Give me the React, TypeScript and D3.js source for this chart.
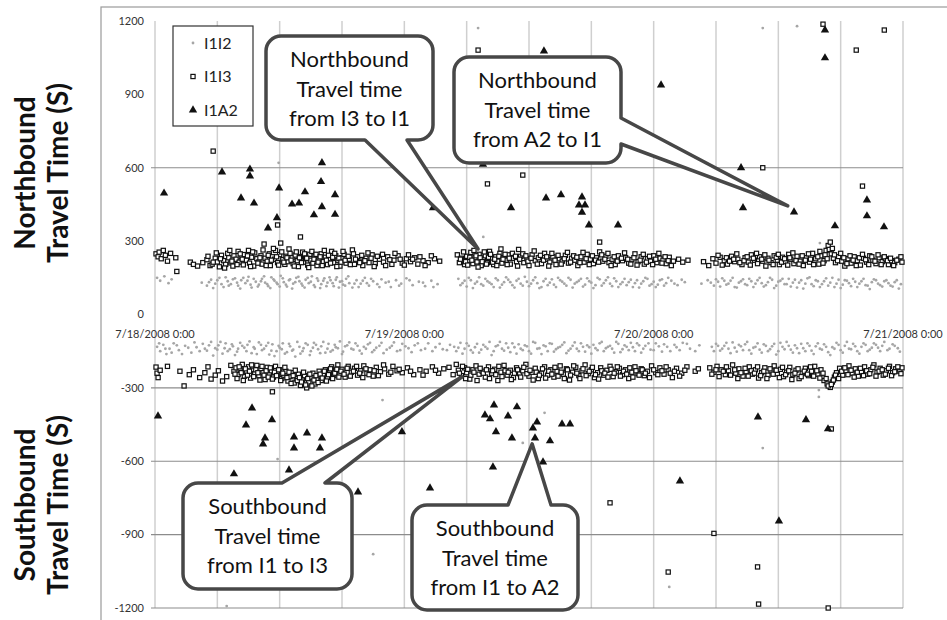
import * as d3 from 'd3'

const W = 947
const H = 620

// series / axes
const seriesNames = ['I1I2', 'I1I3', 'I1A2']
const dayHours = [0, 24, 48, 72]
const dayLabels = ['7/18/2008 0:00', '7/19/2008 0:00', '7/20/2008 0:00', '7/21/2008 0:00']
const gridHours = [0, 6, 12, 18, 24, 30, 36, 42, 48, 54, 60, 66, 72]
const yTicks = [1200, 900, 600, 300, 0, -300, -600, -900, -1200]
const yGrid = [600, -300, -600, -900, -1200]

// [hours since 7/18 0:00, travel time s]; northbound positive, southbound negative
const northI1I2: [number, number][] = [
  [0.2,150],[0.5,138],[0.9,156],[1.3,128],[1.6,144],[4.5,130],[5.0,118],[5.4,142],[5.8,126],[6.2,150],[6.6,112],[7.0,136],[7.3,124],[7.7,148],[8.0,118],[8.3,140],[8.7,128],[9.0,154],[9.3,110],[9.7,134],[10.0,122],[10.3,146],[10.6,130],[10.9,116],[11.2,152],[11.5,138],[11.8,124],[12.1,158],[12.4,132],[12.7,114],[13.0,144],[13.3,126],[13.6,150],[13.9,136],[14.2,118],[14.5,142],[14.8,128],[15.1,156],[15.4,112],[15.7,138],[16.0,124],[16.3,148],[16.6,130],[16.9,140],[17.2,116],[17.5,152],[17.8,134],[18.1,122],[18.4,146],[18.7,128],[19.0,110],[19.4,140],[19.8,126],[20.2,150],[20.6,118],[21.0,136],[21.4,124],[21.8,144],[22.2,130],[22.7,112],[23.2,140],[23.7,126],[24.2,148],[24.8,120],[25.4,134],[26.0,116],[26.6,138],[27.2,124],
  [29.2,146],[29.6,128],[30.0,114],[30.4,140],[30.8,126],[31.2,152],[31.6,118],[32.0,136],[32.4,124],[32.8,148],[33.2,110],[33.6,132],[34.0,142],[34.4,120],[34.8,138],[35.2,126],[35.6,154],[36.0,116],[36.4,140],[36.8,128],[37.2,112],[37.6,146],[38.0,130],[38.4,122],[38.8,150],[39.2,134],[39.6,118],[40.0,142],[40.4,126],[40.8,138],[41.2,114],[41.6,148],[42.0,130],[42.4,120],[42.8,144],[43.2,128],[43.6,152],[44.0,116],[44.4,136],[44.8,124],[45.2,146],[45.6,132],[46.0,112],[46.4,140],[46.8,126],[47.2,150],[47.6,118],[48.0,134],[48.4,122],[48.8,144],[49.2,128],[49.7,138],[50.3,120],[51.0,132],
  [52.6,126],[53.2,140],[53.8,118],[54.2,134],[54.6,148],[55.0,122],[55.4,138],[55.8,112],[56.2,130],[56.6,144],[57.0,120],[57.4,136],[57.8,126],[58.2,150],[58.6,114],[59.0,132],[59.4,142],[59.8,118],[60.2,138],[60.6,124],[61.0,146],[61.4,130],[61.8,110],[62.2,140],[62.6,126],[63.0,152],[63.4,116],[63.8,136],[64.2,124],[64.6,148],[65.0,130],[65.4,112],[65.8,142],[66.2,122],[66.6,138],[67.0,116],[67.4,134],[67.8,126],[68.2,146],[68.6,118],[69.0,132],[69.4,140],[69.8,120],[70.2,136],[70.6,128],[71.0,114],[71.4,140],[71.8,124],
  [5.2,132],[5.6,108],[6.0,140],[6.4,124],[6.8,152],[7.1,118],[7.5,144],[7.9,130],[8.2,106],[8.5,150],[8.9,138],[9.2,122],[9.5,146],[9.9,114],[10.2,136],[10.5,156],[10.8,124],[11.1,108],[11.4,144],[11.7,130],[12.0,114],[12.3,148],[12.6,122],[12.9,140],[13.2,106],[13.5,132],[13.8,154],[14.1,126],[14.4,110],[14.7,150],[15.0,134],[15.3,120],[15.6,148],[15.9,108],[16.2,138],[16.5,116],[16.8,152],[17.1,128],[17.4,142],[17.7,110],[18.0,136],[18.3,118],[18.6,156],[19.2,126],[19.6,112],[20.0,138],[20.4,128],[20.8,146],[21.6,112],[22.5,134],[23.5,118],[24.5,140],[25.8,130],[26.8,112],
  [29.4,120],[29.8,138],[30.2,150],[30.6,108],[31.0,134],[31.4,124],[31.8,146],[32.2,130],[32.6,112],[33.0,140],[33.4,122],[33.8,152],[34.2,132],[34.6,110],[35.0,146],[35.4,118],[35.8,134],[36.2,126],[36.6,152],[37.0,108],[37.4,136],[37.8,120],[38.2,144],[38.6,112],[39.0,140],[39.4,126],[39.8,150],[40.2,110],[40.6,132],[41.0,146],[41.4,122],[41.8,136],[42.2,108],[42.6,150],[43.0,118],[43.4,140],[43.8,126],[44.2,148],[44.6,112],[45.0,132],[45.4,120],[45.8,142],[46.2,128],[46.6,110],[47.0,136],[47.4,146],[47.8,124],[48.2,112],[48.6,140],[49.0,118],[49.4,150],[50.0,126],[50.7,142],
  [53.5,130],[54.0,144],[54.4,114],[54.8,138],[55.2,126],[55.6,150],[56.0,110],[56.4,136],[56.8,124],[57.2,146],[57.6,112],[58.0,140],[58.4,128],[58.8,120],[59.2,150],[59.6,108],[60.0,134],[60.4,146],[60.8,124],[61.2,114],[61.6,142],[62.0,130],[62.4,106],[62.8,148],[63.2,124],[63.6,140],[64.0,112],[64.4,136],[64.8,118],[65.2,150],[65.6,126],[66.0,108],[66.4,140],[66.8,128],[67.2,146],[67.6,112],[68.0,136],[68.4,120],[68.8,104],[69.2,144],[69.6,126],[70.0,114],[70.4,140],[70.8,118],[71.2,132],[71.6,106],
  [31.1,1171],[58.5,1171],[61.8,1179],[31.6,317],[64.0,292],[11.9,620],
]

const northI1I3: [number, number][] = [
  [0.1,248],[0.3,236],[0.4,255],[0.6,228],[0.8,262],[1.0,242],[1.2,218],[1.5,250],[2.0,232],[2.1,176],[3.4,214],[3.7,205],[4.1,198],[4.6,212],
  [5.0,224],[5.3,200],[5.5,206],[5.8,230],[6.0,215],[6.2,195],[6.4,242],[6.6,220],[6.8,205],[7.0,250],[7.1,232],[7.3,211],[7.5,198],[7.6,240],[7.8,226],[8.0,258],[8.1,214],[8.3,236],[8.5,203],[8.6,245],[8.8,222],[9.0,262],[9.1,210],[9.3,234],[9.5,198],[9.6,252],[9.8,228],[10.0,215],
  [10.2,240],[10.3,206],[10.5,288],[10.6,230],[10.8,218],[11.0,248],[11.1,200],[11.3,236],[11.5,226],[11.6,262],[11.8,212],[12.0,245],[12.1,292],[12.3,224],[12.5,205],[12.6,238],[12.8,216],[13.0,250],[13.2,232],[13.3,208],[13.5,243],[13.7,220],[13.8,196],[14.0,236],[14.2,255],[14.3,214],[14.5,228],[14.7,202],[14.9,246],[15.0,222],[15.2,210],[15.4,238],[15.6,200],[15.8,226],[16.0,248],
  [16.2,216],[16.4,234],[16.6,204],[16.8,228],[17.0,258],[17.2,212],[17.4,240],[17.6,222],[17.8,198],[18.0,232],[18.2,246],[18.4,210],[18.7,226],[19.0,264],[19.2,205],[19.5,236],[19.8,218],[20.0,200],[20.3,230],[20.6,212],[20.9,244],[21.2,208],
  [21.6,226],[22.0,214],[22.4,236],[22.8,205],[23.0,222],[23.4,240],[23.8,210],[24.2,228],[24.6,216],[25.0,232],[25.3,206],[25.8,220],[26.3,212],[26.9,228],[27.4,218],
  [29.1,244],[29.3,212],[29.5,230],[29.8,204],[30.0,238],[30.2,220],[30.4,254],[30.6,208],[30.8,232],[31.0,215],[31.2,246],[31.4,200],[31.6,226],[31.8,240],[32.0,212],[32.2,258],[32.4,228],[32.6,204],[32.8,236],[33.0,218],[33.2,250],[33.4,210],[33.6,232],[33.8,222],[34.0,244],[34.2,206],[34.5,230],[34.8,216],[35.0,266],[35.2,238],[35.5,212],[35.8,228],[36.0,200],[36.3,244],[36.6,220],[36.9,232],[37.2,208],[37.5,250],[37.8,226],[38.0,214],[38.3,236],[38.6,204],[38.9,228],[39.2,218],[39.5,242],[39.8,210],[40.1,230],[40.4,222],[40.7,200],[41.0,236],[41.3,214],[41.6,246],[41.9,226],[42.2,208],[42.5,232],[42.8,256],[43.1,218],[43.4,238],[43.7,212],[44.0,226],[44.3,204],[44.6,240],[45.0,220],[45.3,232],[45.6,210],[45.9,224],[46.2,248],[46.5,216],[46.8,236],[47.1,206],[47.4,228],[47.7,218],[48.0,240],[48.3,212],[48.6,230],[48.9,222],[49.2,208],[49.5,234],
  [49.9,218],[50.4,226],[50.8,214],[51.3,222],[52.8,216],[53.3,200],
  [53.7,228],[54.0,210],[54.4,234],[54.8,220],[55.1,206],[55.5,238],[55.8,216],[56.1,226],[56.5,204],[56.8,232],[57.1,214],[57.4,244],[57.7,222],[58.0,208],[58.2,236],[58.5,218],[58.8,198],[59.0,230],[59.3,212],[59.6,240],[59.9,222],[60.1,204],[60.4,234],[60.7,216],[61.0,246],[61.2,226],[61.5,208],[61.8,238],[62.1,218],[62.4,200],[62.7,232],[63.0,214],[63.3,250],[63.6,228],[63.9,206],[64.1,240],[64.4,220],[64.6,262],[64.8,282],[65.0,296],[65.1,248],[65.3,230],[65.5,212],[65.8,236],[66.1,218],[66.4,198],[66.7,228],[67.0,210],[67.3,236],[67.6,220],[67.9,202],[68.2,230],[68.5,214],[68.8,240],[69.1,222],[69.4,208],[69.7,232],[70.0,216],[70.3,228],[70.6,204],[70.9,220],[71.2,212],[71.6,226],[71.9,214],
  [5.1,238],[5.6,214],[5.9,252],[6.3,228],[6.7,190],[7.2,262],[7.4,218],[7.9,204],[8.2,248],[8.4,226],[8.9,240],[9.2,196],[9.4,256],[9.9,210],[10.1,232],[10.4,264],[10.7,200],[10.9,242],[11.2,222],[11.4,270],[11.7,236],[11.9,202],[12.2,256],[12.4,214],[12.7,232],[12.9,268],[13.1,222],[13.4,198],[13.6,256],[13.9,232],[14.1,212],[14.4,248],[14.6,230],[14.8,192],[15.1,258],[15.3,226],[15.5,246],[15.7,214],[15.9,236],[16.1,200],[16.3,262],[16.5,222],[16.7,242],[16.9,210],[17.1,234],[17.3,250],[17.5,196],[17.7,230],[17.9,214],[18.1,258],[18.3,222],[18.6,238],[18.8,204],[19.1,248],[19.3,226],[19.7,212],[19.9,242],[20.2,220],[20.5,252],[20.8,230],[21.1,196],[21.4,238],[21.9,246],[22.2,200],[22.6,224],[23.1,250],[23.6,226],[24.0,202],[24.4,244],[24.8,226],[25.5,236],[26.0,200],[26.6,240],
  [29.4,226],[29.7,256],[29.9,216],[30.1,202],[30.3,234],[30.5,222],[30.7,262],[30.9,240],[31.1,194],[31.3,232],[31.5,216],[31.7,256],[31.9,206],[32.1,234],[32.3,246],[32.5,214],[32.7,226],[32.9,200],[33.1,238],[33.3,268],[33.5,226],[33.7,246],[33.9,204],[34.1,230],[34.4,250],[34.7,238],[34.9,198],[35.1,226],[35.4,248],[35.7,240],[35.9,218],[36.2,230],[36.5,260],[36.8,206],[37.1,242],[37.4,222],[37.7,236],[37.9,198],[38.2,250],[38.5,222],[38.8,242],[39.1,206],[39.4,228],[39.7,254],[40.0,214],[40.3,240],[40.6,234],[40.9,212],[41.2,254],[41.5,228],[41.8,204],[42.1,240],[42.4,222],[42.7,214],[43.0,244],[43.3,226],[43.6,250],[43.9,200],[44.2,236],[44.5,218],[44.9,230],[45.2,252],[45.5,226],[45.8,206],[46.1,232],[46.4,202],[46.7,222],[47.0,246],[47.3,214],[47.6,238],[47.9,204],[48.2,226],[48.5,250],[48.8,210],[49.1,236],[49.4,220],[49.7,200],
  [54.2,242],[54.6,202],[55.0,232],[55.3,218],[55.7,226],[56.0,248],[56.3,212],[56.7,220],[57.0,236],[57.3,202],[57.6,230],[57.9,250],[58.4,226],[58.7,244],[59.1,222],[59.5,204],[59.8,234],[60.0,246],[60.3,214],[60.6,228],[60.9,202],[61.1,232],[61.4,252],[61.7,220],[62.0,206],[62.3,240],[62.6,222],[62.9,248],[63.1,226],[63.4,204],[63.8,236],[64.0,258],[64.3,210],[64.5,244],[64.7,228],[64.9,266],[65.2,270],[65.4,244],[65.7,220],[66.0,250],[66.3,232],[66.6,208],[66.9,240],[67.2,222],[67.5,200],[67.8,232],[68.1,246],[68.4,224],[68.7,204],[69.0,236],[69.3,218],[69.6,244],[69.9,204],[70.2,236],[70.5,220],[70.8,230],[71.1,200],[71.4,222],[71.8,236],
  [5.6,668],[11.8,366],[14.0,317],[31.1,1081],[35.4,570],[32.0,534],[42.8,296],[58.5,600],[68.1,525],[67.5,1081],[70.2,1163],[64.3,1187],
]

const northI1A2: [number, number][] = [
  [0.87,496],[6.45,582],[8.28,476],[9.14,594],[9.14,566],[9.53,455],[10.88,353],[11.74,395],[11.94,517],[13.19,451],[13.86,455],[14.44,501],[15.3,407],[16.07,620],[15.98,543],[16.07,440],[17.33,489],[17.33,409],[26.76,436],
  [31.57,614],[37.44,1077],[34.27,436],[37.64,476],[39.08,489],[41.1,480],[40.81,447],[41.39,447],[41.1,418],[41.77,366],[44.57,366],[48.71,938],
  [56.41,600],[56.6,436],[61.51,419],[65.45,362],[68.53,468],[68.53,403],[70.17,358],[64.49,1163],[64.49,1049],
]

const southI1I2: [number, number][] = [
  [0.2,-132],[0.5,-150],[0.8,-124],[1.1,-162],[1.4,-140],[1.8,-118],[2.3,-146],[2.9,-128],[3.5,-156],[4.0,-134],[4.6,-120],[5.0,-148],[5.4,-112],[5.8,-138],[6.1,-126],[6.5,-160],[6.8,-118],[7.2,-142],[7.5,-130],[7.9,-152],[8.2,-116],[8.6,-136],[8.9,-124],[9.3,-158],[9.6,-140],[10.0,-114],[10.3,-146],[10.7,-128],[11.0,-164],[11.3,-122],[11.7,-150],[12.0,-136],[12.3,-118],[12.7,-154],[13.0,-130],[13.3,-144],[13.7,-112],[14.0,-160],[14.3,-138],[14.7,-124],[15.0,-150],[15.3,-116],[15.7,-142],[16.0,-130],[16.4,-156],[16.7,-120],[17.1,-146],[17.4,-134],[17.8,-110],[18.1,-152],[18.5,-126],[18.9,-140],[19.3,-118],[19.7,-148],[20.1,-132],[20.5,-122],[20.9,-154],[21.3,-136],[21.8,-116],[22.3,-144],[22.8,-128],[23.3,-150],[23.8,-120],[24.4,-138],[25.0,-126],[25.6,-146],[26.3,-118],[27.0,-134],[27.7,-142],[28.4,-124],
  [29.0,-150],[29.4,-116],[29.8,-140],[30.2,-128],[30.6,-156],[31.0,-120],[31.4,-144],[31.8,-132],[32.2,-112],[32.6,-150],[33.0,-126],[33.4,-140],[33.8,-118],[34.2,-154],[34.6,-134],[35.0,-122],[35.4,-146],[35.8,-130],[36.2,-160],[36.6,-116],[37.0,-138],[37.4,-126],[37.8,-150],[38.2,-120],[38.6,-142],[39.0,-132],[39.4,-114],[39.8,-148],[40.2,-128],[40.6,-140],[41.0,-118],[41.4,-152],[41.8,-134],[42.2,-124],[42.6,-146],[43.0,-112],[43.4,-138],[43.8,-128],[44.2,-156],[44.6,-120],[45.0,-142],[45.4,-132],[45.8,-116],[46.2,-150],[46.6,-126],[47.0,-140],[47.5,-118],[48.0,-146],[48.5,-130],[49.0,-122],[49.6,-150],[50.2,-134],[50.8,-116],[51.5,-140],[52.4,-126],
  [53.6,-132],[54.0,-120],[54.4,-148],[54.8,-128],[55.2,-140],[55.6,-114],[56.0,-152],[56.4,-130],[56.8,-122],[57.2,-146],[57.6,-136],[58.0,-118],[58.4,-156],[58.8,-128],[59.2,-142],[59.6,-120],[60.0,-150],[60.4,-132],[60.8,-112],[61.2,-144],[61.6,-126],[62.0,-158],[62.4,-138],[62.8,-118],[63.2,-148],[63.6,-130],[64.0,-140],[64.4,-122],[64.8,-154],[65.2,-134],[65.6,-116],[66.0,-146],[66.4,-128],[66.8,-140],[67.2,-120],[67.6,-150],[68.0,-132],[68.4,-124],[68.8,-144],[69.2,-118],[69.6,-136],[70.0,-128],[70.5,-146],[71.0,-122],[71.5,-138],
  [0.4,-118],[1.0,-140],[1.6,-156],[2.1,-126],[2.6,-162],[3.2,-136],[3.8,-114],[4.3,-150],[4.8,-140],[5.2,-126],[5.6,-168],[6.0,-144],[6.3,-112],[6.7,-138],[7.0,-150],[7.4,-122],[7.7,-166],[8.0,-140],[8.4,-128],[8.8,-150],[9.1,-110],[9.5,-134],[9.8,-162],[10.2,-124],[10.5,-140],[10.9,-116],[11.2,-148],[11.5,-170],[11.9,-128],[12.2,-142],[12.5,-160],[12.9,-120],[13.2,-148],[13.5,-172],[13.9,-132],[14.2,-150],[14.5,-118],[14.9,-166],[15.2,-136],[15.5,-124],[15.9,-158],[16.2,-112],[16.6,-140],[16.9,-152],[17.3,-124],[17.6,-138],[18.0,-162],[18.3,-130],[18.7,-114],[19.1,-144],[19.5,-128],[19.9,-160],[20.3,-140],[20.7,-116],[21.1,-146],[21.6,-128],[22.0,-158],[22.6,-136],[23.0,-114],[23.6,-146],[24.1,-130],[24.7,-154],[25.3,-118],[26.0,-140],[26.7,-150],[27.4,-120],[28.1,-146],[28.8,-132],
  [29.2,-136],[29.6,-160],[30.0,-118],[30.4,-146],[30.8,-134],[31.2,-156],[31.6,-124],[32.0,-140],[32.4,-166],[32.8,-130],[33.2,-112],[33.6,-148],[34.0,-136],[34.4,-118],[34.8,-160],[35.2,-140],[35.6,-126],[36.0,-150],[36.4,-112],[36.8,-140],[37.2,-162],[37.6,-130],[38.0,-118],[38.4,-152],[38.8,-136],[39.2,-124],[39.6,-158],[40.0,-140],[40.4,-114],[40.8,-150],[41.2,-132],[41.6,-126],[42.0,-160],[42.4,-138],[42.8,-118],[43.2,-150],[43.6,-132],[44.0,-140],[44.4,-112],[44.8,-154],[45.2,-126],[45.6,-146],[46.0,-134],[46.4,-118],[46.8,-156],[47.2,-128],[47.7,-144],[48.2,-118],[48.8,-152],[49.3,-132],[50.0,-124],[50.5,-146],[51.2,-120],[52.0,-150],
  [53.8,-150],[54.2,-128],[54.6,-140],[55.0,-116],[55.4,-158],[55.8,-136],[56.2,-124],[56.6,-146],[57.0,-112],[57.4,-160],[57.8,-132],[58.2,-144],[58.6,-122],[59.0,-150],[59.4,-130],[59.8,-164],[60.2,-116],[60.6,-142],[61.0,-128],[61.4,-156],[61.8,-138],[62.2,-120],[62.6,-150],[63.0,-128],[63.4,-162],[63.8,-118],[64.2,-144],[64.6,-132],[65.0,-166],[65.4,-140],[65.8,-124],[66.2,-156],[66.6,-112],[67.0,-142],[67.4,-130],[67.8,-160],[68.2,-118],[68.6,-150],[69.0,-136],[69.4,-124],[69.8,-150],[70.2,-112],[70.7,-140],[71.2,-128],[71.7,-152],
  [49.5,-1114],[58.5,-546],[37.5,-402],[35.4,-525],[63.9,-309],[63.9,-337],[21.0,-980],[6.9,-1192],[21.9,-350],[11.8,-591],
]

const southI1I3: [number, number][] = [
  [0.1,-215],[0.2,-240],[0.3,-258],[0.5,-228],[1.2,-212],[2.4,-232],[2.8,-292],[3.3,-246],[3.7,-226],[4.3,-258],[4.8,-238],[5.1,-214],[5.4,-264],[5.8,-248],[6.1,-230],[6.5,-272],[6.9,-254],[7.3,-208],
  [7.6,-232],[7.8,-218],[8.0,-246],[8.2,-226],[8.4,-204],[8.6,-252],[8.8,-236],[9.0,-214],[9.2,-260],[9.4,-228],[9.6,-242],[9.8,-208],[10.0,-250],[10.2,-222],[10.4,-238],[10.6,-266],[10.8,-216],[11.0,-244],[11.2,-230],[11.4,-256],[11.6,-212],[11.8,-240],[12.0,-226],[12.2,-262],[12.4,-248],[12.6,-232],[12.8,-272],[13.0,-254],[13.2,-238],[13.4,-280],[13.6,-262],[13.8,-244],[14.0,-290],[14.2,-268],[14.4,-250],[14.6,-300],[14.8,-276],[15.0,-256],[15.2,-240],[15.4,-284],[15.6,-264],[15.8,-232],[16.0,-270],[16.2,-248],[16.4,-226],[16.6,-258],[16.8,-238],[17.0,-214],[17.2,-250],[17.4,-230],[17.6,-206],[17.8,-244],[18.0,-224],[18.3,-256],[18.6,-212],[18.9,-236],[19.2,-220],[19.5,-248],[19.8,-230],[20.1,-210],[20.4,-240],[20.7,-226],[21.0,-252],[21.3,-216],[21.7,-234],[22.1,-222],[22.5,-244],[22.9,-212],[23.3,-230],[23.8,-238],[24.3,-218],[24.9,-246],[25.5,-226],[26.1,-232],[26.7,-214],[27.3,-240],[27.8,-222],[28.3,-216],[28.7,-246],
  [29.0,-204],[29.2,-228],[29.5,-250],[29.8,-218],[30.0,-238],[30.3,-264],[30.6,-226],[30.9,-210],[31.2,-244],[31.5,-232],[31.8,-256],[32.1,-214],[32.4,-240],[32.7,-224],[33.0,-270],[33.3,-236],[33.6,-208],[33.9,-248],[34.2,-228],[34.5,-258],[34.8,-218],[35.1,-242],[35.4,-230],[35.7,-204],[36.0,-252],[36.3,-236],[36.6,-220],[36.9,-262],[37.2,-240],[37.5,-214],[37.8,-248],[38.1,-226],[38.4,-256],[38.7,-232],[39.0,-210],[39.3,-244],[39.6,-222],[39.9,-268],[40.2,-236],[40.5,-216],[40.8,-250],[41.1,-230],[41.4,-206],[41.7,-242],[42.0,-226],[42.3,-258],[42.6,-238],[42.9,-218],[43.2,-248],[43.5,-228],[43.8,-212],[44.1,-254],[44.4,-234],[44.7,-220],[45.0,-246],[45.3,-226],[45.6,-262],[45.9,-236],[46.2,-214],[46.5,-242],[46.8,-222],[47.1,-250],[47.4,-232],[47.8,-210],[48.2,-238],[48.6,-218],[49.0,-244],[49.4,-226],[49.8,-258],[50.2,-220],[50.7,-240],[51.2,-214],[52.0,-232],[52.3,-222],
  [53.4,-218],[53.8,-236],[54.1,-212],[54.5,-226],[54.9,-246],[55.2,-230],[55.6,-206],[55.9,-240],[56.2,-222],[56.6,-252],[56.9,-234],[57.2,-214],[57.5,-244],[57.8,-226],[58.1,-260],[58.4,-238],[58.7,-218],[59.0,-248],[59.3,-230],[59.6,-210],[59.9,-242],[60.2,-224],[60.5,-254],[60.8,-236],[61.1,-216],[61.4,-246],[61.7,-228],[62.0,-262],[62.3,-240],[62.6,-220],[62.9,-250],[63.2,-232],[63.5,-212],[63.8,-244],[64.1,-226],[64.4,-270],[64.7,-284],[65.0,-298],[65.2,-276],[65.4,-256],[65.6,-238],[65.9,-220],[66.2,-248],[66.5,-230],[66.8,-210],[67.1,-240],[67.4,-222],[67.7,-252],[68.0,-234],[68.3,-214],[68.6,-244],[68.9,-226],[69.2,-206],[69.5,-236],[69.8,-220],[70.1,-248],[70.4,-230],[70.7,-212],[71.0,-238],[71.3,-222],[71.7,-232],[71.9,-218],
  [7.7,-244],[7.9,-262],[8.1,-214],[8.3,-238],[8.5,-270],[8.7,-222],[8.9,-248],[9.1,-232],[9.3,-206],[9.5,-254],[9.7,-226],[9.9,-238],[10.1,-268],[10.3,-212],[10.5,-248],[10.7,-230],[10.9,-256],[11.1,-218],[11.3,-264],[11.5,-236],[11.7,-250],[11.9,-226],[12.1,-270],[12.3,-240],[12.5,-216],[12.7,-258],[12.9,-236],[13.1,-282],[13.3,-250],[13.5,-228],[13.7,-270],[13.9,-258],[14.1,-276],[14.3,-236],[14.5,-288],[14.7,-262],[14.9,-244],[15.1,-292],[15.3,-268],[15.5,-250],[15.7,-278],[15.9,-244],[16.1,-260],[16.3,-232],[16.5,-272],[16.7,-246],[16.9,-222],[17.1,-262],[17.3,-240],[17.5,-224],[17.7,-256],[17.9,-232],[18.2,-244],[18.5,-220],[18.8,-252],[19.1,-232],[19.4,-212],[19.7,-240],[20.0,-258],[20.3,-222],[20.6,-246],[21.1,-230],[21.5,-250],[22.0,-206],[22.7,-236],[23.5,-224],[24.6,-232],[25.8,-248],[27.0,-228],
  [29.3,-240],[29.6,-212],[29.9,-262],[30.1,-224],[30.4,-248],[30.7,-236],[31.0,-270],[31.3,-220],[31.6,-240],[31.9,-226],[32.2,-262],[32.5,-230],[32.8,-246],[33.1,-212],[33.4,-254],[33.7,-230],[34.0,-236],[34.3,-266],[34.6,-240],[34.9,-226],[35.2,-256],[35.5,-216],[35.8,-242],[36.1,-228],[36.4,-268],[36.7,-236],[37.0,-248],[37.3,-222],[37.6,-260],[37.9,-232],[38.2,-244],[38.5,-216],[38.8,-252],[39.1,-236],[39.4,-262],[39.7,-226],[40.0,-248],[40.3,-210],[40.6,-240],[40.9,-262],[41.2,-222],[41.5,-250],[41.8,-232],[42.1,-216],[42.4,-246],[42.7,-264],[43.0,-230],[43.3,-240],[43.6,-256],[43.9,-224],[44.2,-240],[44.5,-214],[44.8,-252],[45.1,-232],[45.4,-244],[45.7,-218],[46.0,-256],[46.3,-230],[46.6,-248],[46.9,-226],[47.2,-240],[47.6,-258],[48.0,-226],[48.4,-246],[48.8,-230],[49.2,-214],[49.6,-240],[50.0,-232],[50.5,-252],[51.0,-228],
  [53.6,-244],[54.0,-226],[54.3,-254],[54.7,-232],[55.0,-214],[55.4,-248],[55.8,-226],[56.1,-262],[56.4,-238],[56.8,-220],[57.1,-252],[57.4,-230],[57.7,-240],[58.0,-214],[58.3,-250],[58.6,-232],[58.9,-262],[59.2,-222],[59.5,-244],[59.8,-228],[60.1,-258],[60.4,-216],[60.7,-246],[61.0,-230],[61.3,-266],[61.6,-240],[61.9,-222],[62.2,-254],[62.5,-232],[62.8,-244],[63.1,-214],[63.4,-252],[63.7,-230],[64.0,-260],[64.3,-240],[64.6,-262],[64.8,-292],[65.1,-286],[65.3,-268],[65.5,-248],[65.8,-262],[66.1,-232],[66.4,-218],[66.7,-246],[67.0,-228],[67.3,-256],[67.6,-236],[67.9,-220],[68.2,-250],[68.5,-230],[68.8,-242],[69.1,-216],[69.4,-252],[69.7,-232],[70.0,-226],[70.3,-244],[70.6,-220],[70.9,-250],[71.2,-234],[71.5,-214],[71.8,-242],
  [11.3,-316],[43.8,-770],[53.8,-895],[49.4,-1053],[58.0,-1032],[58.1,-1184],[64.8,-1200],[65.1,-468],
]

const southI1A2: [number, number][] = [
  [0.29,-415],[9.34,-383],[8.76,-452],[11.26,-431],[10.59,-505],[10.4,-530],[13.38,-501],[14.63,-485],[16.07,-505],[13.38,-546],[15.88,-546],[23.77,-480],
  [32.63,-370],[31.76,-411],[32.25,-427],[32.82,-480],[33.98,-415],[34.36,-505],[34.84,-378],[36.77,-440],[36.38,-464],[36.58,-505],[39.18,-448],[39.95,-448],[38.02,-517],
  [58.04,-419],[62.66,-431],[64.78,-468],[37.35,-603],[50.53,-681],[60.06,-845],[7.6,-652],[12.9,-636],[19.54,-726],[26.47,-710],[32.53,-624],
]

// callout text and where each one points (hours, seconds)
const calloutLines = [
  ['Northbound', 'Travel time', 'from I3 to I1'],
  ['Northbound', 'Travel time', 'from A2 to I1'],
  ['Southbound', 'Travel time', 'from I1 to I3'],
  ['Southbound', 'Travel time', 'from I1 to A2'],
]
const calloutTips: [number, number][] = [[31.1, 268], [60.9, 444], [29.55, -255], [36.3, -529]]

// box layout in pixels: x, y, w, h, side of pointer, pointer base
const calloutBoxes: { x: number; y: number; w: number; h: number; side: string; a: number; b: number }[] = [
  { x: 266, y: 36, w: 167, h: 104, side: 'bottom', a: 365, b: 407 },
  { x: 454, y: 57, w: 167, h: 106, side: 'right', a: 118, b: 144 },
  { x: 183, y: 483, w: 169, h: 106, side: 'top', a: 282, b: 325 },
  { x: 412, y: 505, w: 166, h: 105, side: 'top', a: 508, b: 551 },
]

const FONT = "Lato, 'Open Sans', sans-serif"

function calloutPath(bx: number, by: number, bw: number, bh: number, side: string, a: number, b: number, tx: number, ty: number) {
  const r = 15
  const x2 = bx + bw
  const y2 = by + bh
  let p = `M${bx + r},${by}`
  if (side === 'top') p += `L${a},${by}L${tx},${ty}L${b},${by}`
  p += `L${x2 - r},${by}A${r},${r} 0 0 1 ${x2},${by + r}`
  if (side === 'right') p += `L${x2},${a}L${tx},${ty}L${x2},${b}`
  p += `L${x2},${y2 - r}A${r},${r} 0 0 1 ${x2 - r},${y2}`
  if (side === 'bottom') p += `L${b},${y2}L${tx},${ty}L${a},${y2}`
  p += `L${bx + r},${y2}A${r},${r} 0 0 1 ${bx},${y2 - r}`
  p += `L${bx},${by + r}A${r},${r} 0 0 1 ${bx + r},${by}Z`
  return p
}

const tri = d3.symbol().type(d3.symbolTriangle).size(30)()

function Dot({ x, y }: { x: number; y: number }) {
  return <circle cx={x} cy={y} r={1.4} fill="#a6a6a6" />
}
function Sq({ x, y }: { x: number; y: number }) {
  return <rect x={x - 2.1} y={y - 2.1} width={4.2} height={4.2} fill="#fff" stroke="#111" strokeWidth={1.2} />
}
function Tri({ x, y }: { x: number; y: number }) {
  return <path d={tri ?? ''} transform={`translate(${x},${y})`} fill="#111" />
}

export default function App() {
  const x = d3.scaleLinear().domain([0, 72]).range([155, 903])
  const y = d3.scaleLinear().domain([-1200, 1200]).range([608, 21])

  const grays = [...northI1I2, ...southI1I2]
  const squares = [...northI1I3, ...southI1I3]
  const triangles = [...northI1A2, ...southI1A2]

  return (
    <svg width={W} height={H} style={{ position: 'absolute', left: 0, top: 0, background: '#fff' }} fontFamily={FONT}>
      <rect x={0} y={0} width={W} height={H} fill="#fff" />
      <rect x={101} y={7} width={860} height={640} fill="none" stroke="#9a9a9a" strokeWidth={1.2} />

      {/* vertical gridlines */}
      {gridHours.map((h) => (
        <line key={'v' + h} x1={x(h)} x2={x(h)} y1={y(1200)} y2={y(-1200)} stroke="#cfcfcf" strokeWidth={1.5} />
      ))}
      {/* horizontal gridlines */}
      {yGrid.map((v) => (
        <line key={'h' + v} x1={x(0) - 4} x2={x(72)} y1={y(v)} y2={y(v)} stroke="#8c8c8c" strokeWidth={1.2} />
      ))}

      {/* y tick labels */}
      {yTicks.map((v) => (
        <text key={'yt' + v} x={144} y={y(v)} dy="0.35em" textAnchor="end" fontSize={11} fill="#333">
          {v}
        </text>
      ))}
      {/* x tick labels */}
      {dayHours.map((h, i) => (
        <text key={'xt' + h} x={x(h)} y={y(0) + 20} dy="0.35em" textAnchor="middle" fontSize={11} fill="#333">
          {dayLabels[i]}
        </text>
      ))}

      {/* points */}
      {grays.map(([h, v], i) => (
        <Dot key={'g' + i} x={x(h)} y={y(v)} />
      ))}
      {squares.map(([h, v], i) => (
        <Sq key={'s' + i} x={x(h)} y={y(v)} />
      ))}
      {triangles.map(([h, v], i) => (
        <Tri key={'t' + i} x={x(h)} y={y(v)} />
      ))}

      {/* legend */}
      <rect x={173} y={26} width={80} height={100} fill="#fff" stroke="#333" strokeWidth={1.2} />
      {seriesNames.map((name, i) => {
        const cy = 43 + i * 33.5
        return (
          <g key={name}>
            {i === 0 && <Dot x={193} y={cy} />}
            {i === 1 && <Sq x={193} y={cy} />}
            {i === 2 && <Tri x={193} y={cy} />}
            <text x={204} y={cy} dy="0.36em" fontSize={16} fill="#222">
              {name}
            </text>
          </g>
        )
      })}

      {/* callouts */}
      {calloutBoxes.map((b, i) => {
        const [th, tv] = calloutTips[i]
        const cx = b.x + b.w / 2
        return (
          <g key={'c' + i}>
            <path
              d={calloutPath(b.x, b.y, b.w, b.h, b.side, b.a, b.b, x(th), y(tv))}
              fill="#fff"
              stroke="#474747"
              strokeWidth={3.5}
              strokeLinejoin="round"
            />
            {calloutLines[i].map((line, j) => (
              <text key={j} x={cx} y={b.y + 31 + j * 29.5} textAnchor="middle" fontSize={22} fill="#111">
                {line}
              </text>
            ))}
          </g>
        )
      })}

      {/* y axis titles */}
      <g fontWeight="bold" fontSize={28} fill="#111" textAnchor="middle">
        <text transform={`translate(35,173) rotate(-90)`}>Northbound</text>
        <text transform={`translate(68,173) rotate(-90)`}>Travel Time (S)</text>
        <text transform={`translate(35,505) rotate(-90)`}>Southbound</text>
        <text transform={`translate(68,505) rotate(-90)`}>Travel Time (S)</text>
      </g>
    </svg>
  )
}
